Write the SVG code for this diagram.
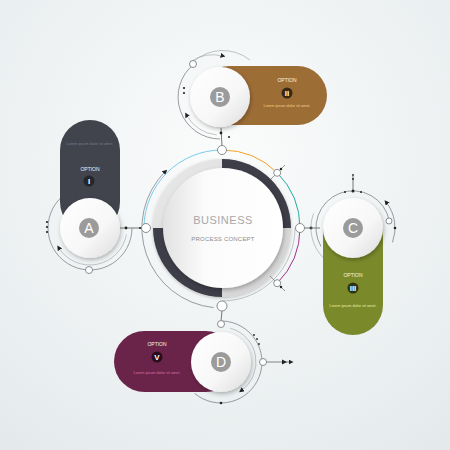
<svg xmlns="http://www.w3.org/2000/svg" width="450" height="450" viewBox="0 0 450 450">
<defs>
  <radialGradient id="bg" cx="0.5" cy="0.35" r="0.8">
    <stop offset="0" stop-color="#fbfcfc"/>
    <stop offset="1" stop-color="#e4eaec"/>
  </radialGradient>
  <linearGradient id="disc" x1="0" y1="0" x2="1" y2="1">
    <stop offset="0" stop-color="#ffffff"/>
    <stop offset="0.6" stop-color="#f7f7f7"/>
    <stop offset="1" stop-color="#dcdcdc"/>
  </linearGradient>
  <linearGradient id="cdisc" x1="0" y1="0.5" x2="1" y2="0.5">
    <stop offset="0" stop-color="#e2e2e2"/>
    <stop offset="0.35" stop-color="#fbfbfb"/>
    <stop offset="1" stop-color="#ffffff"/>
  </linearGradient>
  <linearGradient id="ring" x1="0" y1="0" x2="1" y2="1">
    <stop offset="0" stop-color="#e9e9e9"/>
    <stop offset="1" stop-color="#d2d2d2"/>
  </linearGradient>
  <filter id="sh" x="-30%" y="-30%" width="160%" height="160%">
    <feDropShadow dx="1" dy="2" stdDeviation="2" flood-color="#000" flood-opacity="0.28"/>
  </filter>
  <filter id="sh2" x="-30%" y="-30%" width="160%" height="160%">
    <feDropShadow dx="0" dy="1" stdDeviation="1.5" flood-color="#000" flood-opacity="0.25"/>
  </filter>
  <marker id="ar" viewBox="0 0 6 6" refX="3" refY="3" markerWidth="5" markerHeight="5" markerUnits="userSpaceOnUse" orient="auto">
    <path d="M0,0 L6,3 L0,6 z" fill="#222"/>
  </marker>
  <style>
    .thin{fill:none;stroke:#80848a;stroke-width:0.8}
    .thin2{fill:none;stroke:#9a9ea3;stroke-width:0.6}
    .dot{fill:#222}
    .sc{fill:#fff;stroke:#7d8186;stroke-width:0.9}
    .opt{font-family:"Liberation Sans",Arial,sans-serif;font-size:5px;text-anchor:middle;fill:#f2f2f2}
    .lor{font-family:"Liberation Sans",Arial,sans-serif;font-size:3.8px;text-anchor:middle}
    .num{font-family:"Liberation Sans",Arial,sans-serif;font-size:8px;font-weight:bold;text-anchor:middle;fill:#fff}
    .let{font-family:"Liberation Sans",Arial,sans-serif;font-size:14px;text-anchor:middle;fill:#fff}
    .lc{fill:#9b9b9b}
  </style>
</defs>
<rect width="450" height="450" fill="url(#bg)"/>

<!-- central circle -->
<g id="center">
  <path class="thin" d="M213.6,307.6 A80,80 0 0 1 165.4,171.4" stroke="#4c5068" marker-end="url(#ar)"/>
  <path class="thin2" d="M295,228 A73,73 0 0 1 222,301"/>
  <circle cx="222" cy="228" r="69" fill="url(#ring)" filter="url(#sh2)"/>
  <path d="M222,228 L222,159 A69,69 0 0 1 291,228 Z" fill="#3d3e48"/>
  <path d="M222,228 L222,297 A69,69 0 0 1 153,228 Z" fill="#3d3e48"/>
  <circle cx="223" cy="228" r="60" fill="url(#cdisc)" filter="url(#sh)"/>
  <text x="223" y="224" font-family="Liberation Sans, Arial, sans-serif" font-size="11" letter-spacing="0.5" text-anchor="middle" fill="#a8a8a8">BUSINESS</text>
  <text x="223" y="241" font-family="Liberation Sans, Arial, sans-serif" font-size="6" letter-spacing="0.2" text-anchor="middle" fill="#8c8c8c">PROCESS CONCEPT</text>
  <path d="M222,150 A78,78 0 0 0 144,228" fill="none" stroke="#7ccbea" stroke-width="1"/>
  <path d="M222,150 A78,78 0 0 1 277.2,172.8" fill="none" stroke="#f2a024" stroke-width="1"/>
  <path d="M277.2,172.8 A78,78 0 0 1 300,228" fill="none" stroke="#1fae9e" stroke-width="1"/>
  <path d="M300,228 A78,78 0 0 1 277.2,283.2" fill="none" stroke="#a0308e" stroke-width="1"/>
  <line x1="270" y1="180" x2="285" y2="165" stroke="#555" stroke-width="0.6"/>
  <line x1="270" y1="276" x2="285" y2="291" stroke="#555" stroke-width="0.6"/>
  <circle class="sc" cx="277.2" cy="172.8" r="3.5"/>
  <circle class="sc" cx="277.2" cy="283.2" r="3.5"/>
  <circle class="dot" cx="281" cy="169" r="1.2"/>
  <circle class="dot" cx="281" cy="287" r="1.2"/>
</g>

<!-- connectors -->
<g id="connectors">
  <line x1="118" y1="228" x2="144" y2="228" stroke="#555" stroke-width="0.8"/>
  <circle class="dot" cx="126" cy="228" r="1.4"/>
  <circle class="dot" cx="140" cy="228" r="1"/>
  <line x1="221" y1="128" x2="222" y2="146" stroke="#555" stroke-width="0.8"/>
  <circle class="dot" cx="221" cy="133" r="1.4"/>
  <line x1="304" y1="228" x2="320" y2="228" stroke="#555" stroke-width="0.8"/>
  <circle class="dot" cx="311" cy="228" r="1.4"/>
  <line x1="222" y1="311" x2="221" y2="321" stroke="#555" stroke-width="0.8"/>
  <line x1="266" y1="362" x2="291" y2="362" stroke="#555" stroke-width="0.7" marker-end="url(#ar)"/>
  <path d="M282,359.5 L287,362 L282,364.5 Z" fill="#222"/>
  <circle class="sc" cx="222" cy="150" r="4.5"/>
  <circle class="sc" cx="300" cy="228" r="4.5"/>
  <circle class="sc" cx="222" cy="306" r="5"/>
  <circle class="sc" cx="146" cy="228" r="4.5"/>
</g>

<!-- node A -->
<g id="nodeA">
  <path class="thin" d="M63,195.8 A42,42 0 1 0 132,228"/>
  <path class="thin2" d="M126.4,234.4 A37,37 0 0 1 58.6,247.6" marker-end="url(#ar)"/>
  <circle class="dot" cx="47" cy="222" r="1.1"/>
  <circle class="dot" cx="47" cy="227" r="1.1"/>
  <circle class="dot" cx="47" cy="232" r="1.1"/>
  <circle class="sc" cx="89" cy="270" r="3.5"/>
  <rect x="60" y="120" width="60" height="112" rx="30" fill="#41434d"/>
  <text class="lor" x="90" y="145" fill="#7a7c85">Lorem ipsum dolor sit amet.</text>
  <text class="opt" x="90" y="171">OPTION</text>
  <circle cx="89" cy="181" r="5.5" fill="#25262c"/>
  <text class="num" x="89" y="184">I</text>
  <circle cx="90" cy="228" r="30" fill="url(#disc)" filter="url(#sh)"/>
  <circle class="lc" cx="89" cy="228" r="10"/>
  <text class="let" x="89" y="233">A</text>
</g>

<!-- node B -->
<g id="nodeB">
  <path class="thin" d="M193.6,64.4 A42,42 0 0 0 220,139"/>
  <path class="thin2" d="M190,62 A41,41 0 0 1 223,56" marker-end="url(#ar)"/>
  <path class="thin2" d="M216.7,134.9 A38,38 0 0 1 186.4,114.8" marker-end="url(#ar)"/>
  <path class="thin2" d="M193,62 A44,44 0 0 1 250,60"/>
  <circle class="dot" cx="184" cy="88" r="1.1"/>
  <circle class="dot" cx="184" cy="93" r="1.1"/>
  <circle class="dot" cx="229" cy="137" r="1"/>
  <circle class="sc" cx="193" cy="64" r="3.5"/>
  <rect x="200" y="66" width="127" height="59" rx="29.5" fill="#9d6d36"/>
  <text class="opt" x="287" y="82">OPTION</text>
  <circle cx="287" cy="93" r="5.5" fill="#3a2812"/>
  <text class="num" x="287" y="96">II</text>
  <text class="lor" x="287" y="107" fill="#f1cf84">Lorem ipsum dolor sit amet.</text>
  <circle cx="220" cy="97" r="30" fill="url(#disc)" filter="url(#sh)"/>
  <circle class="lc" cx="220" cy="97" r="10"/>
  <text class="let" x="220" y="102">B</text>
</g>

<!-- node C -->
<g id="nodeC">
  <path class="thin" d="M321,246.5 A37,37 0 1 1 389.3,220.9"/>
  <path class="thin" d="M392.5,242.4 A42,42 0 0 0 386.1,202.1" marker-end="url(#ar)"/>
  <path class="thin2" d="M313.5,213.6 A42,42 0 0 0 323.3,257.7"/>
  <line x1="353" y1="176" x2="353" y2="191" stroke="#555" stroke-width="0.8"/>
  <circle class="dot" cx="353" cy="175" r="0.9"/>
  <circle class="dot" cx="353" cy="179" r="0.9"/>
  <circle class="dot" cx="353" cy="191" r="1.5"/>
  <circle class="dot" cx="345" cy="192" r="1"/>
  <circle class="dot" cx="361" cy="192" r="1"/>
  <circle class="dot" cx="395" cy="228" r="1.3"/>
  <circle class="sc" cx="389" cy="221" r="3"/>
  <rect x="323" y="205" width="60" height="130" rx="30" fill="#7a8a2b"/>
  <text class="opt" x="353" y="277">OPTION</text>
  <circle cx="353" cy="288" r="5.5" fill="#2e3410"/>
  <text class="num" x="353" y="291">III</text>
  <text class="lor" x="353" y="307" fill="#e4eda0">Lorem ipsum dolor sit amet.</text>
  <circle cx="353" cy="228" r="30" fill="url(#disc)" filter="url(#sh)"/>
  <circle class="lc" cx="353" cy="228" r="10"/>
  <text class="let" x="353" y="233">C</text>
</g>

<!-- node D -->
<g id="nodeD">
  <path class="thin" d="M222.4,321 A41,41 0 1 1 194.6,393.4"/>
  <path class="thin2" d="M230.1,328.2 A35,35 0 0 1 241.1,390.7" marker-end="url(#ar)"/>
  <circle class="dot" cx="254" cy="335" r="0.9"/>
  <circle class="dot" cx="257" cy="339" r="0.9"/>
  <circle class="dot" cx="259" cy="344" r="0.9"/>
  <circle class="dot" cx="221" cy="403" r="1.3"/>
  <circle class="sc" cx="221" cy="324" r="3.5"/>
  <circle class="sc" cx="263" cy="362" r="3.5"/>
  <rect x="114" y="331" width="122" height="61" rx="30.5" fill="#6a2449"/>
  <text class="opt" x="157" y="346">OPTION</text>
  <circle cx="157" cy="357" r="5.5" fill="#2a0c1c"/>
  <text class="num" x="157" y="360">V</text>
  <text class="lor" x="157" y="374" fill="#d66fa4">Lorem ipsum dolor sit amet.</text>
  <circle cx="221" cy="362" r="30" fill="url(#disc)" filter="url(#sh)"/>
  <circle class="lc" cx="221" cy="362" r="10"/>
  <text class="let" x="221" y="367">D</text>
</g>
</svg>
